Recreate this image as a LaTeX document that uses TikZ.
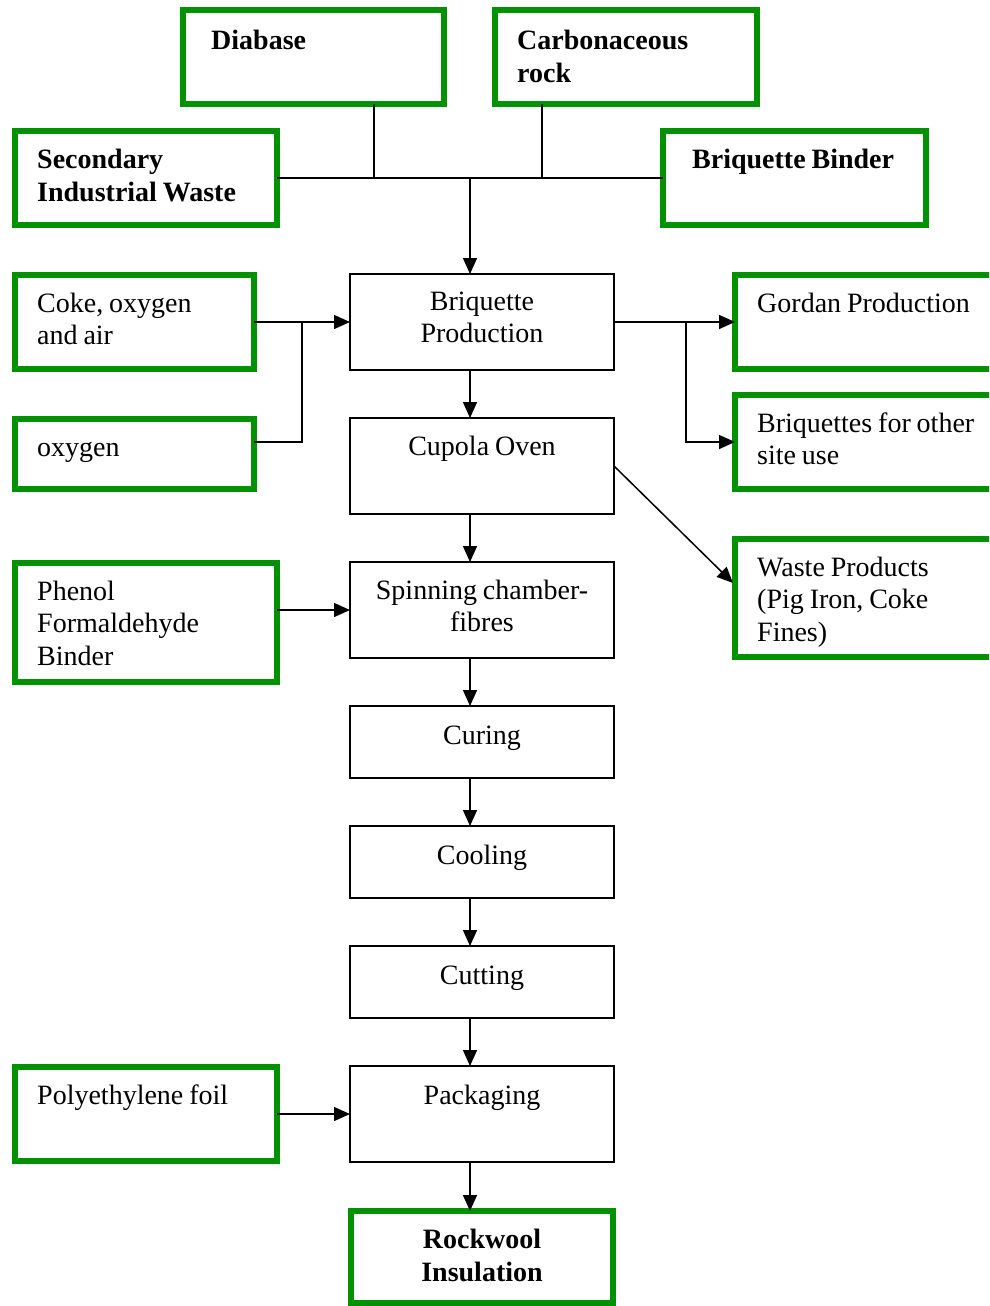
\documentclass[tikz,border=0pt]{standalone}
\usepackage{fontspec}
\setmainfont{Liberation Serif}
\usetikzlibrary{arrows.meta,fit}
\definecolor{gr}{RGB}{0,146,0}
\newcommand\tightsp{\spaceskip=0.21em\relax}
\begin{document}
\begin{tikzpicture}[x=1pt,y=-1pt,
  gbox/.style={draw=gr, line width=5.5pt, inner sep=0pt, outer sep=0pt},
  bbox/.style={draw=black, line width=1.5pt, inner sep=0pt, outer sep=0pt},
  lt/.style={anchor=base west, inner sep=0pt, text width=260pt, align=left, font=\fontsize{28}{32.5}\selectfont, execute at begin node=\tightsp},
  ltb/.style={lt, font=\fontsize{28}{33}\selectfont\bfseries},
  ct/.style={anchor=base, inner sep=0pt, text width=260pt, align=center, font=\fontsize{28}{32.5}\selectfont, execute at begin node=\tightsp},
  ctb/.style={ct, font=\fontsize{28}{33}\selectfont\bfseries},
  conn/.style={line width=1.5pt},
  arr/.style={conn, -{Triangle[length=16pt,width=14pt]}}]
\clip (0,0) rectangle (989,1306);
\useasboundingbox (0,0) rectangle (989,1306);

% green boxes
\node[gbox, fit={(183,10) (444,104)}] (diab) {};
\node[gbox, fit={(495,10) (757,104)}] (carb) {};
\node[gbox, fit={(15,131) (277,225)}] (secw) {};
\node[gbox, fit={(663,131) (926,225)}] (bind) {};
\node[gbox, fit={(15,275) (254,369)}] (coke) {};
\node[gbox, fit={(15,419) (254,489)}] (oxy) {};
\node[gbox, fit={(15,563) (277,682)}] (phen) {};
\node[gbox, fit={(15,1067) (277,1161)}] (poly) {};
\node[gbox, fit={(735,275) (1010,369)}] (gord) {};
\node[gbox, fit={(735,395) (1010,489)}] (bro) {};
\node[gbox, fit={(735,539) (1010,657)}] (waste) {};
\node[gbox, fit={(351,1211) (613,1303)}] (rock) {};

% black boxes
\node[bbox, fit={(350,274) (614,370)}] (brq) {};
\node[bbox, fit={(350,418) (614,514)}] (cup) {};
\node[bbox, fit={(350,562) (614,658)}] (spin) {};
\node[bbox, fit={(350,706) (614,778)}] (cur) {};
\node[bbox, fit={(350,826) (614,898)}] (cool) {};
\node[bbox, fit={(350,946) (614,1018)}] (cut) {};
\node[bbox, fit={(350,1066) (614,1162)}] (pack) {};

% texts
\node[ltb] (diab-t) at (211,49) {Diabase};
\node[ltb] (carb-t) at (517,49) {Carbonaceous\\rock};
\node[ltb] (secw-t) at (37,168) {Secondary\\Industrial Waste};
\node[ltb] (bind-t) at (692,168) {Briquette Binder};
\node[lt] (coke-t) at (37,312) {Coke, oxygen\\and air};
\node[lt] (oxy-t) at (37,456) {oxygen};
\node[lt] (phen-t) at (37,600) {Phenol\\Formaldehyde\\Binder};
\node[lt] (poly-t) at (37,1104) {Polyethylene foil};
\node[lt] (gord-t) at (757,312) {Gordan Production};
\node[lt] (bro-t) at (757,432) {Briquettes for other\\site use};
\node[lt] (waste-t) at (757,576) {Waste Products\\(Pig Iron, Coke\\Fines)};
\node[ctb] (rock-t) at (482,1248) {Rockwool\\Insulation};
\node[ct] (brq-t) at (482,310) {Briquette\\Production};
\node[ct] (cup-t) at (482,455) {Cupola Oven};
\node[ct] (spin-t) at (482,599) {Spinning chamber-\\fibres};
\node[ct] (cur-t) at (482,744) {Curing};
\node[ct] (cool-t) at (482,864) {Cooling};
\node[ct] (cut-t) at (482,984) {Cutting};
\node[ct] (pack-t) at (482,1104) {Packaging};

% coordinates
\coordinate (hub) at (470,178);
\coordinate (sp) at (470,0);
\coordinate (dj) at (374,178);
\coordinate (cj) at (542,178);
\coordinate (oj) at (302,322);
\coordinate (oj2) at (302,442);
\coordinate (rj) at (686,322);
\coordinate (rj2) at (686,442);
\coordinate (wa) at (733,583);

% connectors
\draw[conn] (secw.east) -- (bind.west);
\draw[conn] (diab.south -| dj) -- (dj);
\draw[conn] (carb.south -| cj) -- (cj);
\draw[arr] (hub) -- (brq.north -| sp);
\draw[arr] (coke.east) -- (brq.west);
\draw[conn] (oxy.east |- oj2) -- (oj2) -- (oj);
\draw[arr] (brq.east) -- (gord.west);
\draw[arr] (rj) -- (rj2) -- (bro.west |- rj2);
\draw[arr] (cup.east) -- (wa);
\draw[arr] (brq.south -| sp) -- (cup.north -| sp);
\draw[arr] (cup.south -| sp) -- (spin.north -| sp);
\draw[arr] (spin.south -| sp) -- (cur.north -| sp);
\draw[arr] (cur.south -| sp) -- (cool.north -| sp);
\draw[arr] (cool.south -| sp) -- (cut.north -| sp);
\draw[arr] (cut.south -| sp) -- (pack.north -| sp);
\draw[arr] (pack.south -| sp) -- (rock.north -| sp);
\draw[arr] (phen.east |- spin.west) -- (spin.west);
\draw[arr] (poly.east) -- (pack.west);
\end{tikzpicture}
\end{document}
